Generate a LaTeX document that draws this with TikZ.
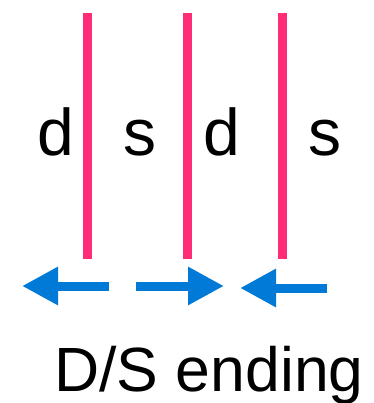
\documentclass[tikz,border=0pt]{standalone}
\usepackage{fontspec}
\setmainfont{Liberation Sans}
\usepackage{tikz}
\usetikzlibrary{arrows.meta}
\definecolor{wallpink}{RGB}{255,45,120}
\definecolor{flowblue}{RGB}{0,122,214}

\begin{document}
\begin{tikzpicture}[x=1pt, y=-1pt,
  wall/.style={line width=9pt, wallpink},
  flow/.style={-{Triangle[length=36pt, width=36pt]}, line width=9pt, flowblue},
  lbl/.style={anchor=base, inner sep=0pt, font=\fontsize{66}{70}\selectfont},
  ttl/.style={anchor=base, inner sep=0pt, font=\fontsize{62.5}{66}\selectfont}
]
\useasboundingbox (0,0) rectangle (373,403);
% domain walls
\foreach \x [count=\i] in {87.5,187.5,282.5} {
  \coordinate (w\i t) at (\x,13);
  \coordinate (w\i b) at (\x,259);
  \draw[wall] (w\i t) -- (w\i b);
}
% layer letters
\node[lbl] (d1) at (56,156) {d};
\node[lbl] (s1) at (140,156) {s};
\node[lbl] (d2) at (222,156) {d};
\node[lbl] (s2) at (324.5,156) {s};
% moment directions
\coordinate (a1s) at (109,286);
\coordinate (a1e) at (22,286);
\coordinate (a2s) at (136,286);
\coordinate (a2e) at (224,286);
\coordinate (a3s) at (327,288);
\coordinate (a3e) at (240,288);
\draw[flow] (a1s) -- (a1e);
\draw[flow] (a2s) -- (a2e);
\draw[flow] (a3s) -- (a3e);
\node[ttl] (title) at (209,391) {D/S ending};
\end{tikzpicture}
\end{document}
